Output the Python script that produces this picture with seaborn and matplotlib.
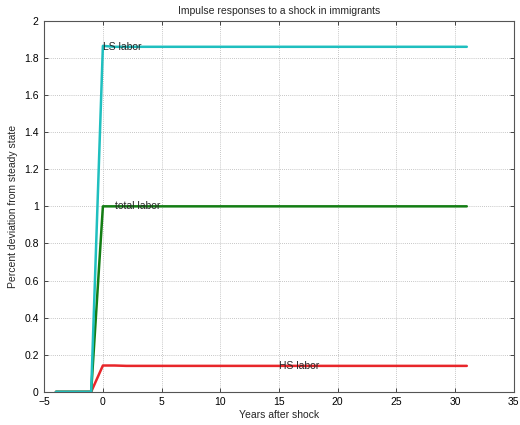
import matplotlib
matplotlib.use("Agg")
import matplotlib.pyplot as plt
import seaborn as sns
import pandas as pd

years = [-4, -3, -2, -1, 0, 1, 2, 3, 4, 5, 6, 7, 8, 9, 10, 11, 12, 13, 14, 15,
         16, 17, 18, 19, 20, 21, 22, 23, 24, 25, 26, 27, 28, 29, 30, 31]
ls_labor = [0, 0, 0, 0, 1.865, 1.86, 1.86, 1.86, 1.86, 1.86, 1.86, 1.86, 1.86, 1.86,
            1.86, 1.86, 1.86, 1.86, 1.86, 1.86, 1.86, 1.86, 1.86, 1.86, 1.86, 1.86,
            1.86, 1.86, 1.86, 1.86, 1.86, 1.86, 1.86, 1.86, 1.86, 1.86]
total_labor = [0, 0, 0, 0, 1.0, 1.0, 1.0, 1.0, 1.0, 1.0, 1.0, 1.0, 1.0, 1.0, 1.0,
               1.0, 1.0, 1.0, 1.0, 1.0, 1.0, 1.0, 1.0, 1.0, 1.0, 1.0, 1.0, 1.0,
               1.0, 1.0, 1.0, 1.0, 1.0, 1.0, 1.0, 1.0]
hs_labor = [0, 0, 0, 0, 0.142, 0.142, 0.14, 0.14, 0.14, 0.14, 0.14, 0.14, 0.14,
            0.14, 0.14, 0.14, 0.14, 0.14, 0.14, 0.14, 0.14, 0.14, 0.14, 0.14,
            0.14, 0.14, 0.14, 0.14, 0.14, 0.14, 0.14, 0.14, 0.14, 0.14, 0.14, 0.14]
series_names = ["LS labor", "total labor", "HS labor"]
series_colors = ["#1fbfbf", "#137d13", "#e8262a"]

df = pd.concat([
    pd.DataFrame({"year": years, "value": vals, "series": name})
    for name, vals in zip(series_names, [ls_labor, total_labor, hs_labor])
])

sns.set_style("white")
plt.rcParams["font.family"] = ["Liberation Sans", "DejaVu Sans"]
plt.rcParams["font.size"] = 7.5

fig = plt.figure(figsize=(5.2, 4.25), dpi=100)
ax = fig.add_axes([0.085, 0.078, 0.903, 0.873])

# draw in reverse so LS labor ends up on top
sns.lineplot(data=df, x="year", y="value", hue="series",
             hue_order=series_names[::-1], palette=series_colors[::-1],
             linewidth=1.8, legend=False, ax=ax)

ax.set_xlim(-5, 35)
ax.set_ylim(0, 2)
ax.set_xticks(range(-5, 36, 5))
ax.set_yticks([0, 0.2, 0.4, 0.6, 0.8, 1, 1.2, 1.4, 1.6, 1.8, 2])
ax.set_yticklabels(["0", "0.2", "0.4", "0.6", "0.8", "1", "1.2", "1.4", "1.6", "1.8", "2"])
ax.grid(True, linestyle=(0, (1, 1.5)), color="#b4b4b4", linewidth=0.6)
ax.tick_params(direction="in", length=3, width=0.7, colors="#444444",
               labelcolor="black", labelsize=7.5, top=True, right=True,
               bottom=True, left=True, pad=4)
for s in ax.spines.values():
    s.set_color("#555555")
    s.set_linewidth(0.8)

ax.set_xlabel("Years after shock", fontsize=7.5, labelpad=2)
ax.set_ylabel("Percent deviation from steady state", fontsize=7.5, labelpad=4)
ax.set_title("Impulse responses to a shock in immigrants", fontsize=7.5, pad=5)

ax.text(0, ls_labor[5], "LS labor", fontsize=7.5, va="center", ha="left")
ax.text(1, total_labor[5], "total labor", fontsize=7.5, va="center", ha="left")
ax.text(15, hs_labor[10], "HS labor", fontsize=7.5, va="center", ha="left")

fig.savefig("out.png", dpi=100)
